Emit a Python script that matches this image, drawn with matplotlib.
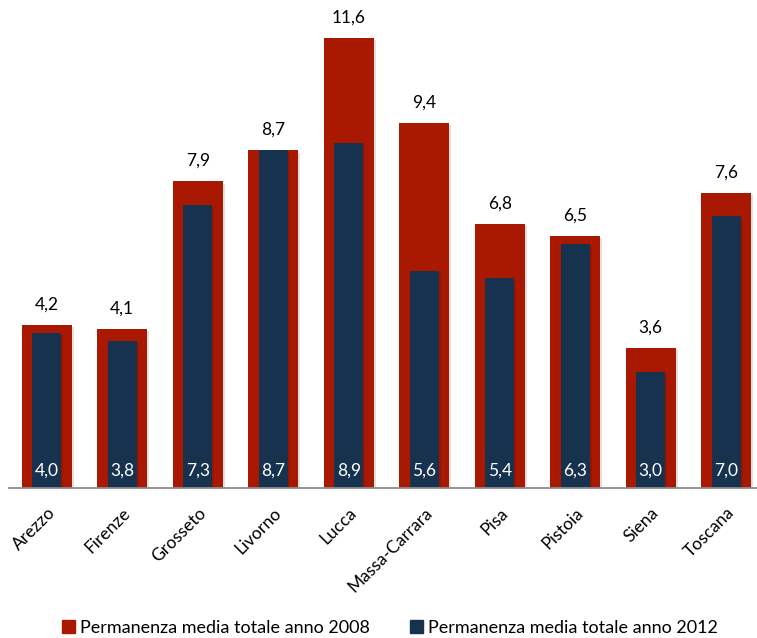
import matplotlib
matplotlib.use("Agg")
import matplotlib.pyplot as plt
import matplotlib.patheffects as pe
from matplotlib.patches import Patch
import numpy as np

categories = ["Arezzo", "Firenze", "Grosseto", "Livorno", "Lucca", "Massa-Carrara",
              "Pisa", "Pistoia", "Siena", "Toscana"]
values_2008 = [4.2, 4.1, 7.9, 8.7, 11.6, 9.4, 6.8, 6.5, 3.6, 7.6]
values_2012 = [4.0, 3.8, 7.3, 8.7, 8.9, 5.6, 5.4, 6.3, 3.0, 7.0]
labels_2008 = ["4,2", "4,1", "7,9", "8,7", "11,6", "9,4", "6,8", "6,5", "3,6", "7,6"]
labels_2012 = ["4,0", "3,8", "7,3", "8,7", "8,9", "5,6", "5,4", "6,3", "3,0", "7,0"]
series_names = ["Permanenza media totale anno 2008", "Permanenza media totale anno 2012"]

RED = "#A91800"
BLUE = "#17324F"
plt.rcParams['font.family'] = ['Lato', 'DejaVu Sans']

W, H = 757, 638
fig = plt.figure(figsize=(W / 100, H / 100), dpi=100)
base_y = 488
ax = fig.add_axes([9 / W, (H - base_y) / H, (W - 9) / W, base_y / H])

x = np.arange(len(categories))
shadow = [pe.SimplePatchShadow(offset=(1.5, -1.5), alpha=0.12, shadow_rgbFace="black"), pe.Normal()]
b1 = ax.bar(x, values_2008, width=0.66, color=RED, zorder=2)
b2 = ax.bar(x, values_2012, width=0.385, color=BLUE, zorder=3)
for b in list(b1) + list(b2):
    b.set_path_effects(shadow)

for xi, v, lab in zip(x, values_2008, labels_2008):
    ax.text(xi, v + 0.32, lab, ha="center", va="bottom", fontsize=12.5, color="black")
for xi, lab in zip(x, labels_2012):
    ax.text(xi, 0.45, lab, ha="center", va="center", fontsize=12.5, color="white", zorder=4)

ax.set_xlim(-0.5, 9.5 - 7 / 75.5)
ax.set_ylim(0, base_y / 38.8)
for s in ["top", "right", "left"]:
    ax.spines[s].set_visible(False)
ax.spines["bottom"].set_color("#8c8c8c")
ax.spines["bottom"].set_linewidth(1.3)
ax.spines["bottom"].set_zorder(5)
ax.set_yticks([])
ax.set_xticks(x)
ax.set_xticklabels(categories, rotation=45, ha="right", va="top",
                   rotation_mode="anchor", fontsize=12.5)
ax.tick_params(axis="x", length=0, pad=12)

handles = [Patch(color=RED), Patch(color=BLUE)]
fig.legend(handles, series_names, loc="center", bbox_to_anchor=(390 / W, 1 - 628 / H),
           ncol=2, frameon=False, fontsize=13, handlelength=0.7, handleheight=0.7,
           handletextpad=0.3, columnspacing=2.2)

fig.savefig("out.png", dpi=100)
